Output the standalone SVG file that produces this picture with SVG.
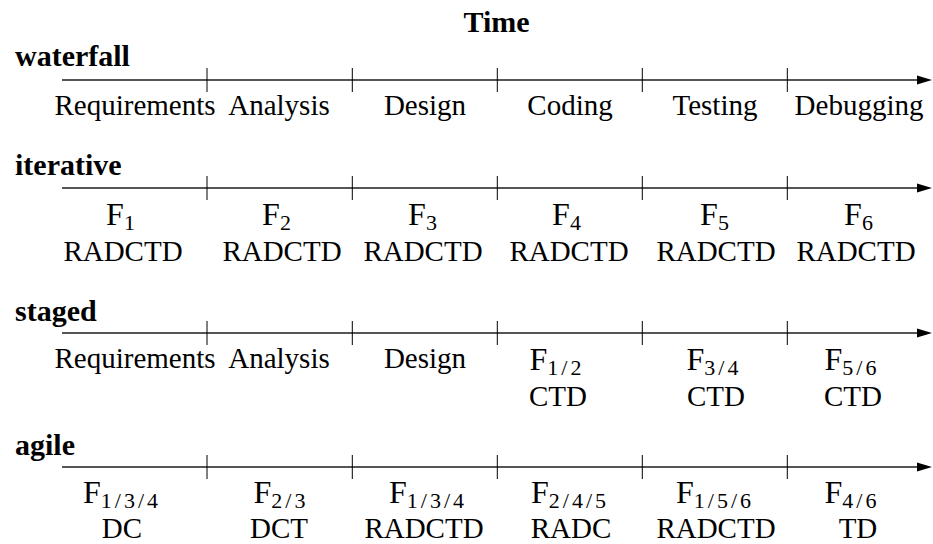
<svg xmlns="http://www.w3.org/2000/svg" width="933" height="544" viewBox="0 0 933 544" font-family="Liberation Serif, DejaVu Serif, serif">
<style>
text{font-family:'Liberation Serif','DejaVu Serif',serif;fill:#000}
.h{font-weight:bold;font-size:30px}
.p{font-size:29px;text-anchor:middle}
.f{font-size:32px}
.s{font-size:22px;letter-spacing:3px}
.ax{stroke:#555;stroke-width:2;fill:none}
.tk{stroke:#000;stroke-width:1}
</style>
<defs>
<g id="axis">
<line class="ax" x1="62" y1="0" x2="920" y2="0"/>
<polygon points="917,-4.5 932,0 917,4.5" fill="#000"/>
<line class="tk" x1="207" y1="-12" x2="207" y2="12"/>
<line class="tk" x1="352.3" y1="-12" x2="352.3" y2="12"/>
<line class="tk" x1="497.3" y1="-12" x2="497.3" y2="12"/>
<line class="tk" x1="642.3" y1="-12" x2="642.3" y2="12"/>
<line class="tk" x1="787.3" y1="-12" x2="787.3" y2="12"/>
</g>
</defs>
<text id="title" class="h" x="496.5" y="32" text-anchor="middle">Time</text>
<g id="connectors">
<use href="#axis" y="80"/>
<use href="#axis" y="188"/>
<use href="#axis" y="333"/>
<use href="#axis" y="467"/>
</g>
<g id="waterfall">
<text class="h" x="15" y="66">waterfall</text>
<text class="p" x="135" y="115">Requirements</text>
<text class="p" x="279" y="115">Analysis</text>
<text class="p" x="425" y="115">Design</text>
<text class="p" x="570" y="115">Coding</text>
<text class="p" x="715" y="115">Testing</text>
<text class="p" x="859" y="115">Debugging</text>
</g>
<g id="iterative">
<text class="h" x="15" y="175">iterative</text>
<text class="p" x="122" y="225"><tspan class="f">F</tspan><tspan class="s" dy="5">1</tspan></text>
<text class="p" x="278" y="225"><tspan class="f">F</tspan><tspan class="s" dy="5">2</tspan></text>
<text class="p" x="424" y="225"><tspan class="f">F</tspan><tspan class="s" dy="5">3</tspan></text>
<text class="p" x="568" y="225"><tspan class="f">F</tspan><tspan class="s" dy="5">4</tspan></text>
<text class="p" x="716" y="225"><tspan class="f">F</tspan><tspan class="s" dy="5">5</tspan></text>
<text class="p" x="860" y="225"><tspan class="f">F</tspan><tspan class="s" dy="5">6</tspan></text>
<text class="p" x="123" y="261">RADCTD</text>
<text class="p" x="282" y="261">RADCTD</text>
<text class="p" x="423" y="261">RADCTD</text>
<text class="p" x="569" y="261">RADCTD</text>
<text class="p" x="716" y="261">RADCTD</text>
<text class="p" x="856" y="261">RADCTD</text>
</g>
<g id="staged">
<text class="h" x="15" y="321">staged</text>
<text class="p" x="135" y="368">Requirements</text>
<text class="p" x="279" y="368">Analysis</text>
<text class="p" x="425" y="368">Design</text>
<text class="p" x="557" y="370"><tspan class="f">F</tspan><tspan class="s" dy="5">1/2</tspan></text>
<text class="p" x="714" y="370"><tspan class="f">F</tspan><tspan class="s" dy="5">3/4</tspan></text>
<text class="p" x="852" y="370"><tspan class="f">F</tspan><tspan class="s" dy="5">5/6</tspan></text>
<text class="p" x="558" y="406">CTD</text>
<text class="p" x="716" y="406">CTD</text>
<text class="p" x="853" y="406">CTD</text>
</g>
<g id="agile">
<text class="h" x="15" y="455">agile</text>
<text class="p" x="122" y="503"><tspan class="f">F</tspan><tspan class="s" dy="5">1/3/4</tspan></text>
<text class="p" x="281" y="503"><tspan class="f">F</tspan><tspan class="s" dy="5">2/3</tspan></text>
<text class="p" x="428" y="503"><tspan class="f">F</tspan><tspan class="s" dy="5">1/3/4</tspan></text>
<text class="p" x="570" y="503"><tspan class="f">F</tspan><tspan class="s" dy="5">2/4/5</tspan></text>
<text class="p" x="715" y="503"><tspan class="f">F</tspan><tspan class="s" dy="5">1/5/6</tspan></text>
<text class="p" x="852" y="503"><tspan class="f">F</tspan><tspan class="s" dy="5">4/6</tspan></text>
<text class="p" x="122" y="538">DC</text>
<text class="p" x="279" y="538">DCT</text>
<text class="p" x="424" y="538">RADCTD</text>
<text class="p" x="571" y="538">RADC</text>
<text class="p" x="716" y="538">RADCTD</text>
<text class="p" x="858" y="538">TD</text>
</g>
</svg>
